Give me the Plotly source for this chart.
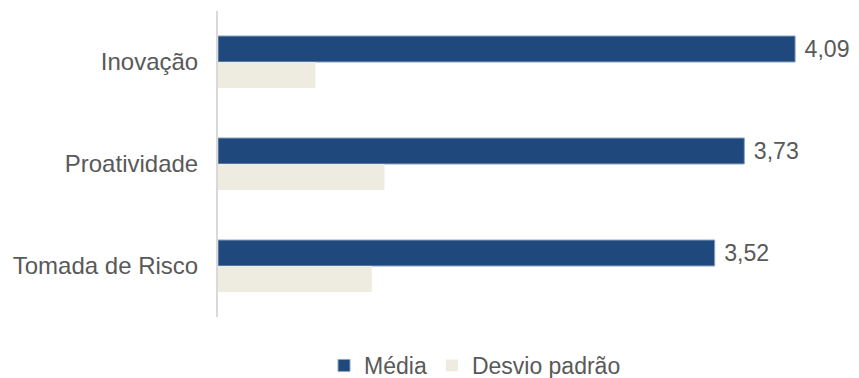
import plotly.graph_objects as go

categories = ["Inovação", "Proatividade", "Tomada de Risco"]
media = [4.09, 3.73, 3.52]
desvio = [0.69, 1.18, 1.09]

FONT = "Liberation Sans, Arial, sans-serif"
GRAY = "#595959"
FS = 24

fig = go.Figure()
fig.add_trace(go.Bar(
    y=categories, x=media, orientation="h", name="Média",
    marker=dict(color="#1F497D", line=dict(color="#8EA4C2", width=1)),
    texttemplate=" %{x:.2f}", textposition="outside",
    textfont=dict(family=FONT, size=FS, color=GRAY),
    cliponaxis=False,
))
fig.add_trace(go.Bar(
    y=categories, x=desvio, orientation="h", name="Desvio padrão",
    marker=dict(color="#EEECE1", line=dict(width=0)),
))

fig.update_layout(
    width=859, height=378,
    barmode="group", bargap=0.49, bargroupgap=0,
    separators=",.",
    plot_bgcolor="white", paper_bgcolor="white",
    margin=dict(l=218, r=6, t=11, b=61, autoexpand=False),
    font=dict(family=FONT, size=FS, color=GRAY),
    xaxis=dict(range=[0, 4.5], showgrid=False, showticklabels=False,
               zeroline=False, showline=False, ticks=""),
    yaxis=dict(autorange="reversed", showgrid=False, showline=True,
               linecolor="#D9D9D9", linewidth=2, ticks="", ticklabelstandoff=13,
               tickfont=dict(family=FONT, size=FS, color=GRAY)),
    legend=dict(orientation="h", xref="container", yref="container",
                x=0.553, xanchor="center", y=0.09, yanchor="top",
                font=dict(family=FONT, size=23, color=GRAY),
                traceorder="normal", itemwidth=30),
    showlegend=True,
)

fig.write_html("out.html")
